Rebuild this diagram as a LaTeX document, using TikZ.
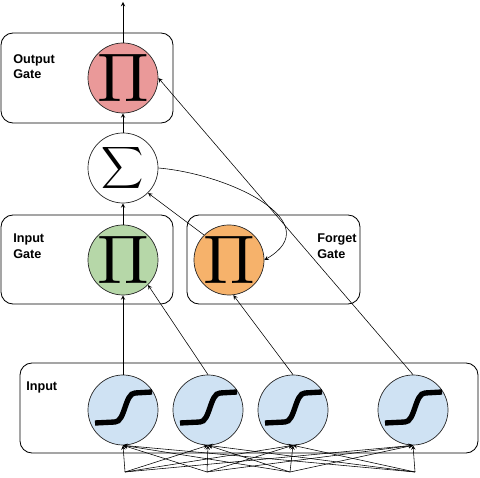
\documentclass[tikz,border=0pt]{standalone}
\usepackage{fontspec}
\setsansfont{Liberation Sans}
\usepackage{graphicx}
\usepackage{tikz}
\usetikzlibrary{arrows}

\definecolor{outcol}{HTML}{EA9999}
\definecolor{incol}{HTML}{B6D7A8}
\definecolor{forgetcol}{HTML}{F6B26B}
\definecolor{sigcol}{HTML}{CFE2F3}

\begin{document}
\begin{tikzpicture}[x=0.025cm,y=0.025cm,
  unit/.style={circle,draw=black!85,line width=0.5,minimum size=1.75cm,inner sep=0pt},
  gatebox/.style={draw,line width=0.6,rounded corners=0.3cm},
  gatelabel/.style={font=\sffamily\bfseries\fontsize{9}{11}\selectfont,align=left,anchor=north west,inner sep=0pt},
  link/.style={->,>=stealth,line width=0.4}]
  \useasboundingbox (0,0) rectangle (480,478);

  % gate boxes
  \draw[gatebox] (1,445) rectangle (173,355);
  \draw[gatebox] (1,263) rectangle (173,174);
  \draw[gatebox] (187,263) rectangle (360,174);
  \draw[gatebox] (20,115) rectangle (478,25);

  \node[gatelabel] (outlbl) at (13,424) {Output\\Gate};
  \node[gatelabel] (inlbl) at (13,244) {Input\\Gate};
  \node[gatelabel] (forgetlbl) at (317,244) {Forget\\Gate};
  \node[gatelabel] (inputlbl) at (26,96) {Input};

  % units
  \node[unit,fill=outcol] (outp) at (123,400) {\scalebox{4.9}{$\Pi$}};
  \node[unit,fill=white] (sum) at (123,310) {\resizebox*{!}{1.17cm}{$\displaystyle\sum$}};
  \node[unit,fill=incol] (ip) at (123,218) {\scalebox{4.9}{$\Pi$}};
  \node[unit,fill=forgetcol] (fp) at (229,218) {\scalebox{4.9}{$\Pi$}};

  \node[unit,fill=sigcol] (s1) at (123,68) {};
  \node[unit,fill=sigcol] (s2) at (208,68) {};
  \node[unit,fill=sigcol] (s3) at (293,68) {};
  \node[unit,fill=sigcol] (s4) at (413,68) {};
  \foreach \n in {s1,s2,s3,s4}
    \draw[line width=3.8pt] ([shift={(-28,-13)}]\n.center) -- ++(20,1)
      .. controls +(10,0) and +(-10,0) .. ++(20,29) -- ++(17,1);

  \coordinate (x1) at (125,6);
  \coordinate (x2) at (207,6);
  \coordinate (x3) at (290,6);
  \coordinate (x4) at (415,6);
  \coordinate (out) at (123,476);

  % connections
  \foreach \i in {1,...,4}
    \foreach \j in {1,...,4}
      \draw[link] (x\i) -- (s\j.south);

  \draw[link] (s1.north) -- (ip.south);
  \draw[link] (s2.north) -- (ip.south east);
  \draw[link] (s3.north) -- (fp.-83);
  \draw[link] (s4.north) -- (outp.east);

  \draw[link] (ip.north) -- (sum.south);
  \draw[link] (fp.north west) -- (sum.south east);
  \draw[link] (sum.east) to[out=-5,in=30,looseness=1.35] (fp.east);
  \draw[link] (sum.north) -- (outp.south);
  \draw[link] (outp.north) -- (out);
\end{tikzpicture}
\end{document}
